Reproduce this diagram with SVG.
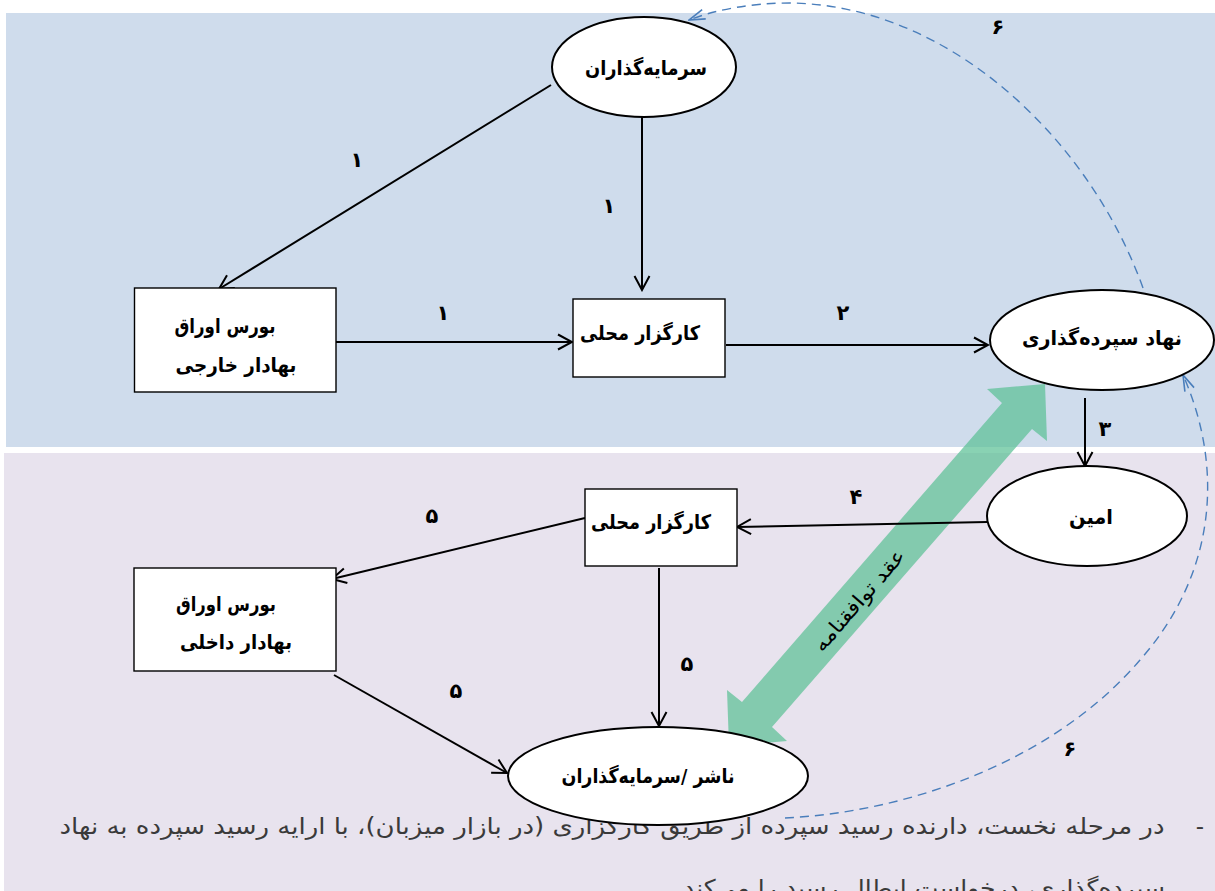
<svg xmlns="http://www.w3.org/2000/svg" width="1215" height="891" viewBox="0 0 1215 891">
<style>
.node{fill:#fff;stroke:#000;stroke-width:2}
.box{fill:#fff;stroke:#000;stroke-width:1.4}
.lbl{font-family:"DejaVu Sans",sans-serif;font-weight:bold;font-size:20px;fill:#000;text-anchor:middle}
.num{font-family:"DejaVu Sans",sans-serif;font-weight:bold;font-size:21px;fill:#000;text-anchor:middle}
.conn{fill:none;stroke:#000;stroke-width:2;marker-end:url(#ah)}
.dash{fill:none;stroke:#4a7ebb;stroke-width:1.4;stroke-dasharray:9 6;marker-end:url(#bh)}
.para{font-family:"DejaVu Sans",sans-serif;font-size:23px;fill:#3a3a3a}
</style>
<defs>
<marker id="ah" viewBox="0 0 18 18" refX="16" refY="9" markerWidth="18" markerHeight="18" orient="auto" markerUnits="userSpaceOnUse">
<path d="M2,1.5 L16,9 L2,16.5" fill="none" stroke="#000" stroke-width="2"/>
</marker>
<marker id="bh" viewBox="0 0 18 12" refX="17" refY="6" markerWidth="18" markerHeight="12" orient="auto" markerUnits="userSpaceOnUse">
<path d="M1,1 L17,6 L1,11" fill="none" stroke="#4a7ebb" stroke-width="1.6"/>
</marker>
</defs>
<rect width="1215" height="891" fill="#fff"/>
<rect x="6" y="13" width="1209" height="434" fill="#cfdcec"/>
<rect x="4" y="453" width="1211" height="438" fill="#e8e3ee"/>
<g id="paragraph">
<text class="para" x="1200" y="834" text-anchor="middle">-</text>
<text class="para" x="612" y="834" text-anchor="middle" direction="rtl" textLength="1105" lengthAdjust="spacingAndGlyphs">در مرحله نخست، دارنده رسید سپرده از طریق کارگزاری (در بازار میزبان)، با ارایه رسید سپرده به نهاد</text>
<text class="para" x="924" y="896" text-anchor="middle" direction="rtl" textLength="482" lengthAdjust="spacingAndGlyphs">سپرده‌گذاری، درخواست ابطال رسید را می‌کند</text>
</g>
<g id="agreement">
<polygon points="1045,384 987,389 1002,403 742,702 727,690 729,746 787,741 772,727 1032,429 1047,441" fill="#5cc196" fill-opacity="0.72"/>
<text x="859" y="607" transform="rotate(-49 859 600)" font-family="DejaVu Sans,sans-serif" font-size="20" text-anchor="middle" direction="rtl" fill="#000" textLength="128" lengthAdjust="spacingAndGlyphs">عقد توافقنامه</text>
</g>
<g id="connectors">
<path class="dash" d="M785,818 C910,812 1055,760 1140,660 C1215,575 1225,470 1183,375"/>
<path class="dash" d="M1143,288 C1090,140 950,5 790,3 C750,3 715,10 689,20"/>
<path class="conn" d="M551,85 L219,289"/>
<path class="conn" d="M642,117 L642,290"/>
<path class="conn" d="M336,342 L572,342"/>
<path class="conn" d="M726,345 L988,345"/>
<path class="conn" d="M1085,398 L1085,466"/>
<path class="conn" d="M987,522 L737,527"/>
<path class="conn" d="M585,518 L332,579"/>
<path class="conn" d="M659,568 L659,726"/>
<path class="conn" d="M334,675 L507,773"/>
<text class="num" x="357" y="167">۱</text>
<text class="num" x="609" y="213">۱</text>
<text class="num" x="443" y="320">۱</text>
<text class="num" x="843" y="320">۲</text>
<text class="num" x="1105" y="436">۳</text>
<text class="num" x="856" y="504">۴</text>
<text class="num" x="432" y="523">۵</text>
<text class="num" x="687" y="671">۵</text>
<text class="num" x="456" y="698">۵</text>
<text class="num" x="998" y="34">۶</text>
<text class="num" x="1070" y="756">۶</text>
</g>
<g id="investors">
<ellipse class="node" cx="644" cy="67" rx="92" ry="50"/>
<text class="lbl" x="646" y="75" direction="rtl" textLength="122" lengthAdjust="spacingAndGlyphs">سرمایه‌گذاران</text>
</g>
<g id="foreign-exchange">
<rect class="box" x="134.5" y="288" width="201.5" height="104"/>
<text class="lbl" x="225" y="333" direction="rtl" textLength="101" lengthAdjust="spacingAndGlyphs">بورس اوراق</text>
<text class="lbl" x="236" y="372" direction="rtl" textLength="121" lengthAdjust="spacingAndGlyphs">بهادار خارجی</text>
</g>
<g id="local-broker-top">
<rect class="box" x="573" y="299" width="152" height="78"/>
<text class="lbl" x="640" y="340" direction="rtl" textLength="120" lengthAdjust="spacingAndGlyphs">کارگزار محلی</text>
</g>
<g id="depositary">
<ellipse class="node" cx="1102" cy="340" rx="112" ry="50"/>
<text class="lbl" x="1102" y="345" direction="rtl" textLength="160" lengthAdjust="spacingAndGlyphs">نهاد سپرده‌گذاری</text>
</g>
<g id="custodian">
<ellipse class="node" cx="1087" cy="516" rx="100" ry="50"/>
<text class="lbl" x="1091" y="524" direction="rtl" textLength="44" lengthAdjust="spacingAndGlyphs">امین</text>
</g>
<g id="local-broker-bottom">
<rect class="box" x="585" y="489" width="152" height="77"/>
<text class="lbl" x="651" y="529" direction="rtl" textLength="120" lengthAdjust="spacingAndGlyphs">کارگزار محلی</text>
</g>
<g id="domestic-exchange">
<rect class="box" x="134" y="568" width="202" height="103"/>
<text class="lbl" x="226" y="611" direction="rtl" textLength="100" lengthAdjust="spacingAndGlyphs">بورس اوراق</text>
<text class="lbl" x="236" y="649" direction="rtl" textLength="112" lengthAdjust="spacingAndGlyphs">بهادار داخلی</text>
</g>
<g id="issuer">
<ellipse class="node" cx="658" cy="776" rx="150" ry="49"/>
<text class="lbl" x="648" y="783" direction="rtl" textLength="173" lengthAdjust="spacingAndGlyphs">ناشر /سرمایه‌گذاران</text>
</g>
</svg>
